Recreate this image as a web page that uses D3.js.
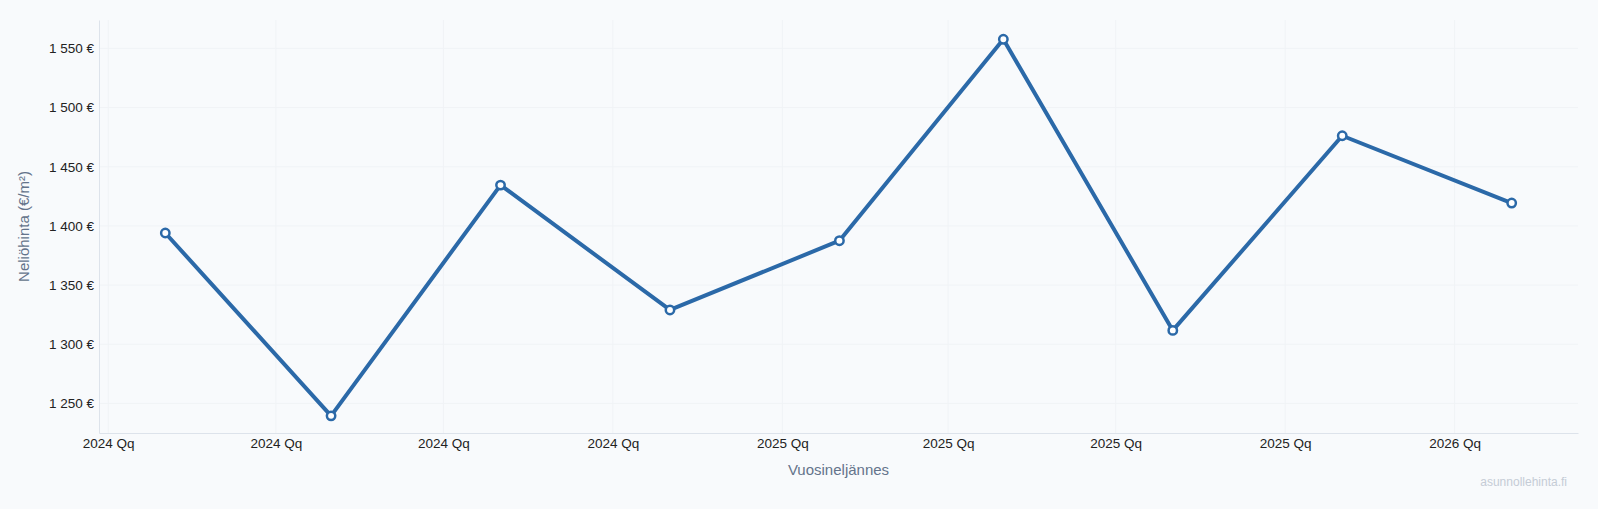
<!DOCTYPE html>
<html>
<head>
<meta charset="utf-8">
<script src="https://cdn.jsdelivr.net/npm/d3@7"></script>
<style>
  html, body { margin: 0; padding: 0; background: #f8fafc; }
  svg { display: block; }
</style>
</head>
<body>
<svg id="chart" width="1598" height="509"></svg>
<script>
// Data
const pointDates = ["2024-02-01","2024-05-01","2024-08-01","2024-11-01","2025-02-01","2025-05-01","2025-08-01","2025-11-01","2026-02-01"];
const prices = [1394, 1239.5, 1434.5, 1329, 1387.5, 1557.7, 1311.7, 1476.2, 1419.3];
const tickDates = ["2024-01-01","2024-04-01","2024-07-01","2024-10-01","2025-01-01","2025-04-01","2025-07-01","2025-10-01","2026-01-01"];
const tickLabels = ["2024 Qq","2024 Qq","2024 Qq","2024 Qq","2025 Qq","2025 Qq","2025 Qq","2025 Qq","2026 Qq"];
const yTicks = [1250, 1300, 1350, 1400, 1450, 1500, 1550];
const yDomain = [1225, 1574];
const padDays = 36;

const parse = d3.utcParse("%Y-%m-%d");
const data = pointDates.map((d, i) => ({ date: parse(d), value: prices[i] }));
const ticks = tickDates.map(parse);

const W = 1598, H = 509;
const m = { left: 99, right: 20, top: 20, bottom: 76 };
const svg = d3.select("#chart");
svg.append("rect").attr("width", W).attr("height", H).attr("fill", "#f8fafc");

const x0 = d3.utcDay.offset(data[0].date, -padDays);
const x1 = d3.utcDay.offset(data[data.length - 1].date, padDays);
const x = d3.scaleUtc().domain([x0, x1]).range([m.left, W - m.right]);
const y = d3.scaleLinear().domain(yDomain).range([H - m.bottom, m.top]);

const fmtNum = v => d3.format(",")(v).replace(/,/g, "\u00a0") + " €";
const font = "Liberation Sans, Arial, sans-serif";

// grid
const grid = svg.append("g");
grid.selectAll("line.h").data(yTicks).join("line")
  .attr("x1", m.left).attr("x2", W - m.right)
  .attr("y1", d => y(d)).attr("y2", d => y(d))
  .attr("stroke", "#f0f3f6").attr("stroke-width", 1);
grid.selectAll("line.v").data(ticks).join("line")
  .attr("x1", d => x(d)).attr("x2", d => x(d))
  .attr("y1", m.top).attr("y2", H - m.bottom)
  .attr("stroke", "#f0f3f6").attr("stroke-width", 1);

// axes
const yAxis = svg.append("g").attr("transform", `translate(${m.left},0)`)
  .call(d3.axisLeft(y).tickValues(yTicks).tickFormat(fmtNum).tickSize(0).tickPadding(5));
yAxis.select(".domain").attr("stroke", "#dde3eb");
yAxis.selectAll("text").attr("font-family", font)
  .attr("font-size", 13.5).attr("fill", "#222");

const xAxis = svg.append("g").attr("transform", `translate(0,${H - m.bottom})`)
  .call(d3.axisBottom(x).tickValues(ticks).tickFormat((d, i) => tickLabels[i]).tickSize(0).tickPadding(5));
xAxis.select(".domain").attr("stroke", "#dde3eb");
xAxis.selectAll("text").attr("font-family", font)
  .attr("font-size", 13.5).attr("fill", "#222");

// titles
svg.append("text").attr("x", (m.left + W - m.right) / 2).attr("y", 475)
  .attr("text-anchor", "middle").attr("font-family", font)
  .attr("font-size", 15).attr("fill", "#64748b").text("Vuosineljännes");
svg.append("text").attr("transform", `translate(29,${(m.top + H - m.bottom) / 2}) rotate(-90)`)
  .attr("text-anchor", "middle").attr("font-family", font)
  .attr("font-size", 15).attr("fill", "#64748b").text("Neliöhinta (€/m²)");
svg.append("text").attr("x", 1567).attr("y", 486)
  .attr("text-anchor", "end").attr("font-family", font)
  .attr("font-size", 12).attr("fill", "#c5ccd6").text("asunnollehinta.fi");

// line
const color = "#2b69a8";
svg.append("path").datum(data)
  .attr("fill", "none").attr("stroke", color).attr("stroke-width", 4)
  .attr("stroke-linejoin", "round").attr("stroke-linecap", "round")
  .attr("d", d3.line().x(d => x(d.date)).y(d => y(d.value)));
svg.append("g").selectAll("circle").data(data).join("circle")
  .attr("cx", d => x(d.date)).attr("cy", d => y(d.value)).attr("r", 4.2)
  .attr("fill", "#fff").attr("stroke", color).attr("stroke-width", 2.5);
</script>
</body>
</html>
